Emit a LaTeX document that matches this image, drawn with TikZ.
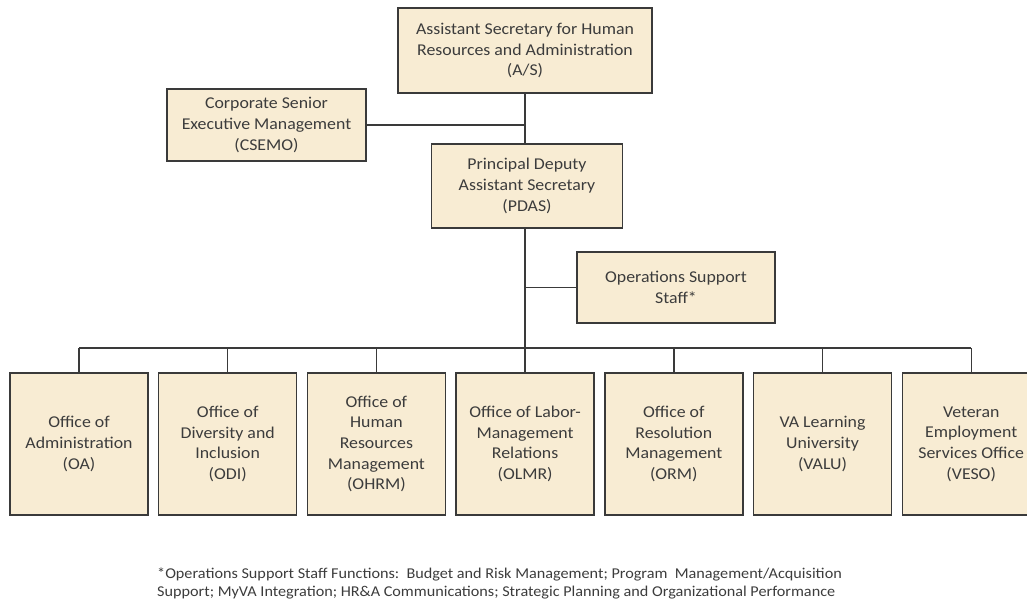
\documentclass[tikz,border=0pt]{standalone}
\usepackage{fontspec}
\setmainfont{Carlito}[FakeStretch=1.08]
\definecolor{boxfill}{HTML}{F8ECD3}
\definecolor{edge}{HTML}{3A3A3A}
\definecolor{txt}{HTML}{3C3C3C}
\begin{document}
\begin{tikzpicture}[x=1pt,y=-1pt,
  orgbox/.style={draw=edge, line width=1.4pt, fill=boxfill, align=center,
    text=txt, inner sep=2pt, font=\fontsize{16.5}{20.7}\selectfont},
  link/.style={draw=edge, line width=1.4pt}]
\useasboundingbox (0,0) rectangle (1027,604);
\node[orgbox, minimum width=254pt, minimum height=85pt] (as) at (525,50.5)
  {Assistant Secretary for Human\\Resources and Administration\\(A/S)};
\node[orgbox, minimum width=199pt, minimum height=72pt] (csemo) at (266.5,125)
  {Corporate Senior\\Executive Management\\(CSEMO)};
\node[orgbox, minimum width=191pt, minimum height=84pt] (pdas) at (527,186)
  {Principal Deputy\\Assistant Secretary\\(PDAS)};
\node[orgbox, minimum width=198pt, minimum height=71pt] (ops) at (676,287.5)
  {Operations Support\\Staff*};
\foreach \i/\t in {1/{Office of\\Administration\\(OA)},
                  2/{Office of\\Diversity and\\Inclusion\\(ODI)},
                  3/{Office of\\Human\\Resources\\Management\\(OHRM)},
                  4/{Office of Labor-\\Management\\Relations\\(OLMR)},
                  5/{Office of\\Resolution\\Management\\(ORM)},
                  6/{VA Learning\\University\\(VALU)},
                  7/{Veteran\\Employment\\Services Office\\(VESO)}}
  \node[orgbox, minimum width=138pt, minimum height=142pt] (b\i) at ({79+148.7*(\i-1)},444) {\t};
\coordinate (spine) at (525,0);
\coordinate (bus) at (525,348);
\draw[link] (as.south) -- (spine |- pdas.north);
\draw[link] (csemo.east) -- (spine |- csemo.east);
\draw[link] (spine |- pdas.south) -- (bus);
\draw[link] (ops.west) -- (ops.west -| bus);
\draw[link] (b1.north |- bus) -- (b7.north |- bus);
\foreach \i in {1,...,7} \draw[link] (b\i.north |- bus) -- (b\i.north);
\node[anchor=north west, align=left, text=txt, inner sep=0pt,
  font=\fontsize{15}{18}\selectfont] (note) at (157,568)
  {*Operations Support Staff Functions:\ \ Budget and Risk Management; Program\ \ Management/Acquisition\\
   Support; MyVA Integration; HR\&A Communications; Strategic Planning and Organizational Performance};
\end{tikzpicture}
\end{document}
